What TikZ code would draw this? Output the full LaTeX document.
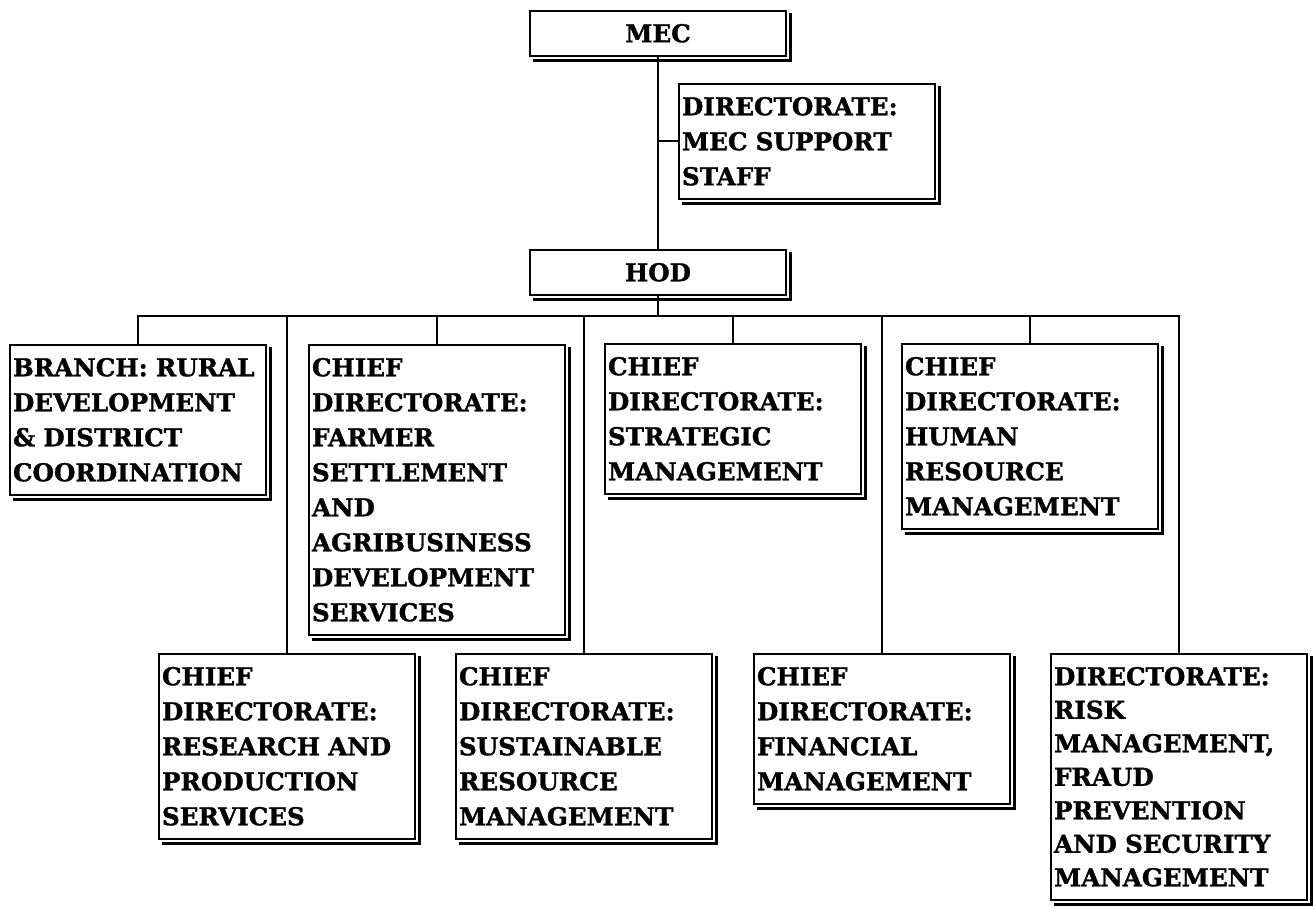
\documentclass[tikz,border=0pt]{standalone}
\usepackage{fontspec}
\setmainfont[BoldFeatures={FakeBold=1.2}]{DejaVu Serif}
\begin{document}
\begin{tikzpicture}[x=0.5pt,y=-0.5pt,line width=1pt,
    unit/.style={draw,fill=white,anchor=north west,minimum width=128pt,inner xsep=1.5pt,inner ysep=6.5pt,
      font=\bfseries\fontsize{12.3}{17.5}\selectfont},
    post/.style={unit,text width=125pt,align=left},
    head/.style={unit,align=center}]
    \useasboundingbox (0,0) rectangle (1313,908);
    \node[head] (mec) at (529,10) {MEC};
    \node[post] (sup) at (678,83) {DIRECTORATE:\\MEC SUPPORT\\STAFF};
    \node[head] (hod) at (529,249) {HOD};
    \node[post] (branch) at (9,344) {BRANCH: RURAL\\DEVELOPMENT\\\& DISTRICT\\COORDINATION};
    \node[post] (farmer) at (308,344) {CHIEF\\DIRECTORATE:\\FARMER\\SETTLEMENT\\AND\\AGRIBUSINESS\\DEVELOPMENT\\SERVICES};
    \node[post] (strat) at (604,343) {CHIEF\\DIRECTORATE:\\STRATEGIC\\MANAGEMENT};
    \node[post] (human) at (901,343) {CHIEF\\DIRECTORATE:\\HUMAN\\RESOURCE\\MANAGEMENT};
    \node[post] (research) at (158,653) {CHIEF\\DIRECTORATE:\\RESEARCH AND\\PRODUCTION\\SERVICES};
    \node[post] (sustain) at (455,653) {CHIEF\\DIRECTORATE:\\SUSTAINABLE\\RESOURCE\\MANAGEMENT};
    \node[post] (finan) at (753,653) {CHIEF\\DIRECTORATE:\\FINANCIAL\\MANAGEMENT};
    \node[post,font=\bfseries\fontsize{12.3}{16.75}\selectfont] (risk) at (1050,653) {DIRECTORATE:\\RISK\\MANAGEMENT,\\FRAUD\\PREVENTION\\AND SECURITY\\MANAGEMENT};
    \coordinate (bus) at (0,316);
    \draw (mec.south) -- (hod.north);
    \draw (mec.south |- sup.west) -- (sup.west);
    \draw (hod.south) -- (hod.south |- bus);
    \draw[line cap=rect] (branch.north |- bus) -- (risk.north |- bus);
    \foreach \n in {branch,farmer,strat,human,research,sustain,finan,risk}
      \draw (\n.north |- bus) -- (\n.north);
    \foreach \n in {mec,sup,hod,branch,farmer,strat,human,research,sustain,finan,risk}
      \draw[line width=1.5pt] ([shift={(3.5,3.5)}]\n.north east) -- ([shift={(3.5,3.5)}]\n.south east) -- ([shift={(3.5,3.5)}]\n.south west);
\end{tikzpicture}
\end{document}
